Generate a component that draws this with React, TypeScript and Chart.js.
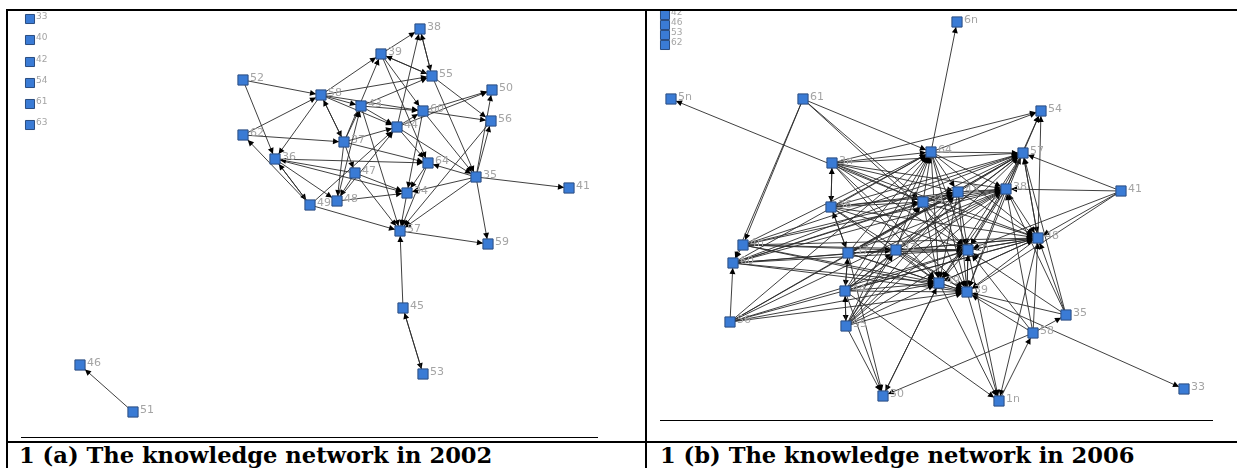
import { useEffect, useRef } from "react";
import { Chart, registerables } from "chart.js";
Chart.register(...registerables);

// ---------- 2002 network (layout coordinates) ----------
const nodes2002 = ["33", "40", "42", "54", "61", "63", "52", "58", "43", "62", "36", "37", "44", "60", "39", "38", "55", "50", "56", "64", "35", "41", "47", "48", "49", "34", "57", "59", "45", "53", "46", "51"];
const x2002 = [30, 30, 30, 30, 30, 30, 243, 321, 361, 243, 275, 344, 397, 423, 381, 420, 432, 492, 491, 428, 476, 569, 355, 337, 310, 407, 400, 488, 403, 423, 80, 133];
const y2002 = [19, 40, 62, 83, 104, 125, 80, 95, 106, 135, 159, 142, 127, 111, 54, 29, 76, 90, 121, 163, 177, 188, 173, 201, 205, 193, 231, 244, 308, 374, 365, 412];
const isolated2002 = ["33", "40", "42", "54", "61", "63"];
const edges2002 = [
  "52>58", "52>36", "62>37", "62>58", "49>62", "58>36", "58>37", "37>58", "58>43", "58>60", "58>55", "58>39", "58>44",
  "39>38", "39>55", "55>39", "38>55", "55>38", "44>38", "55>56", "43>60", "43>44", "60>50", "44>50", "60>56", "44>60",
  "44>64", "44>35", "37>44", "37>43", "37>39", "37>64", "37>47", "37>48", "36>49", "36>48", "36>34", "36>64", "49>57",
  "49>44", "49>36", "47>34", "47>57", "47>48", "47>36", "48>34", "48>44", "48>43", "34>57", "64>57", "64>34", "35>41",
  "35>59", "35>57", "35>34", "35>64", "35>50", "35>56", "55>35", "60>35", "57>59", "45>57", "45>53", "53>45", "51>46",
  "43>57", "60>34", "39>64", "56>57", "39>60", "43>55"
];

// ---------- 2006 network (layout coordinates) ----------
const nodes2006 = ["42", "46", "53", "62", "6n", "5n", "61", "54", "3n", "64", "57", "43", "38", "41", "34", "36", "4n", "60", "56", "37", "47", "2n", "48", "49", "39", "44", "55", "35", "58", "50", "1n", "33"];
const x2006 = [665, 665, 665, 665, 957, 671, 803, 1041, 832, 931, 1023, 958, 1006, 1121, 923, 831, 743, 733, 730, 848, 896, 968, 1038, 939, 967, 845, 846, 1066, 1033, 883, 999, 1184];
const y2006 = [15, 25, 35, 45, 22, 99, 99, 111, 163, 152, 153, 192, 189, 191, 202, 207, 245, 263, 322, 253, 250, 250, 238, 283, 292, 291, 326, 315, 333, 396, 401, 389];
const stacked2006 = ["42", "46", "53", "62"];
const edges2006 = [
  "64>6n", "34>5n", "61>4n", "61>60", "61>34", "61>2n", "57>54", "38>54", "48>54", "3n>54", "41>57", "41>38", "41>48",
  "41>2n", "41>39", "35>48", "35>38", "35>57", "35>39", "35>2n", "58>48", "58>38", "58>39", "58>2n", "58>50", "39>33",
  "44>50", "55>50", "49>50", "37>50", "2n>1n", "39>1n", "49>1n", "44>1n", "56>60", "56>2n", "56>48", "56>49", "4n>60",
  "4n>64", "4n>43", "4n>2n", "4n>48", "4n>39", "60>64", "60>34", "60>2n", "60>49", "60>39", "60>38", "58>35",
  "3n>64", "3n>43", "3n>34", "3n>38", "3n>2n", "3n>49", "3n>39", "3n>36", "36>3n", "3n>57", "3n>48",
  "36>64", "36>34", "36>43", "36>2n", "36>49", "36>39", "36>38", "36>37", "37>36", "36>48",
  "37>47", "37>2n", "37>49", "37>64", "37>43", "37>39", "37>44", "44>37", "37>38",
  "44>55", "55>44", "44>49", "44>2n", "44>39", "44>64", "44>34", "44>47", "44>38", "44>48",
  "55>49", "55>39", "55>2n", "55>64", "55>43", "55>34", "55>38",
  "47>2n", "47>64", "47>43", "47>39", "47>49", "47>38", "47>57",
  "34>64", "34>43", "34>2n", "34>49", "34>39", "34>38",
  "64>43", "64>2n", "64>39", "64>49", "64>38", "64>57", "64>48", "64>54",
  "43>38", "43>2n", "43>39", "43>49", "43>57", "43>48",
  "38>57", "38>2n", "38>48", "38>39", "38>49",
  "57>48", "48>57", "57>2n", "57>39", "57>49",
  "48>2n", "48>39", "48>49", "48>1n", "2n>49", "2n>39", "39>2n", "49>39", "2n>48",
  "61>64", "60>47", "4n>47", "56>39", "1n>58", "50>49", "55>47", "60>57", "4n>57", "56>64",
  "44>57", "55>57", "36>57", "37>57", "49>48", "47>48", "34>48", "34>57", "4n>38", "60>43",
  "60>48", "56>38", "56>57", "4n>49", "56>43"
];

const netPlugin = {
  id: "net",
  beforeDatasetsDraw(chart: any, _args: any, opts: any) {
    const ctx = chart.ctx;
    const meta = chart.getDatasetMeta(0);
    const pos: Record<string, { x: number; y: number }> = {};
    opts.labels.forEach((l: string, i: number) => {
      pos[l] = { x: meta.data[i].x, y: meta.data[i].y };
    });
    const h = opts.half;
    ctx.save();
    ctx.strokeStyle = "#2a2a2a";
    ctx.fillStyle = "#000";
    ctx.lineWidth = 0.9;
    opts.edges.forEach((e: string) => {
      const [a, b] = e.split(">");
      const p = pos[a];
      const q = pos[b];
      if (!p || !q) return;
      const dx = q.x - p.x;
      const dy = q.y - p.y;
      const len = Math.hypot(dx, dy);
      if (len < 1) return;
      const m = Math.max(Math.abs(dx), Math.abs(dy));
      const t = h / m;
      const sx = p.x + dx * t;
      const sy = p.y + dy * t;
      const ex = q.x - dx * t;
      const ey = q.y - dy * t;
      ctx.beginPath();
      ctx.moveTo(sx, sy);
      ctx.lineTo(ex, ey);
      ctx.stroke();
      const ux = dx / len;
      const uy = dy / len;
      const al = 6;
      const aw = 3;
      ctx.beginPath();
      ctx.moveTo(ex, ey);
      ctx.lineTo(ex - ux * al - uy * aw, ey - uy * al + ux * aw);
      ctx.lineTo(ex - ux * al + uy * aw, ey - uy * al - ux * aw);
      ctx.closePath();
      ctx.fill();
    });
    ctx.restore();
  },
  afterDatasetsDraw(chart: any, _args: any, opts: any) {
    const ctx = chart.ctx;
    const meta = chart.getDatasetMeta(0);
    ctx.save();
    ctx.fillStyle = "#a4a4a4";
    ctx.textBaseline = "middle";
    ctx.textAlign = "left";
    opts.labels.forEach((l: string, i: number) => {
      const small = opts.small.includes(l);
      ctx.font = (small ? "9px" : "11px") + " 'DejaVu Sans', sans-serif";
      const el = meta.data[i];
      ctx.fillText(l, el.x + (small ? 6 : 7), el.y - 2);
    });
    ctx.restore();
  },
};

function Net(props: any) {
  const ref = useRef<HTMLCanvasElement>(null);
  useEffect(() => {
    const { labels, xs, ys, edges, small, xMin, xMax, yMin, yMax, half } = props;
    const data = labels.map((_: string, i: number) => ({ x: xs[i], y: ys[i] }));
    const radii = labels.map((l: string) => (small.includes(l) ? 6.4 : 7.2));
    const chart = new Chart(ref.current as HTMLCanvasElement, {
      type: "scatter",
      data: {
        datasets: [
          {
            data,
            pointStyle: "rect",
            pointRadius: radii,
            backgroundColor: "#3a7bd5",
            borderColor: "#2b4d80",
            borderWidth: 1,
            clip: false as any,
          },
        ],
      },
      options: {
        responsive: false,
        animation: false,
        devicePixelRatio: 1,
        layout: { padding: 0, autoPadding: false } as any,
        scales: {
          x: { type: "linear", min: xMin, max: xMax, display: false },
          y: { type: "linear", min: yMin, max: yMax, reverse: true, display: false },
        },
        plugins: {
          legend: { display: false },
          tooltip: { enabled: false },
          net: { labels, edges, small, half },
        } as any,
      },
      plugins: [netPlugin],
    });
    return () => chart.destroy();
  }, []);
  return (
    <canvas
      ref={ref}
      width={props.width}
      height={props.height}
      style={{ position: "absolute", left: props.left, top: props.top, width: props.width, height: props.height }}
    />
  );
}

const line = (left: number, top: number, width: number, height: number) => (
  <div style={{ position: "absolute", left, top, width, height, background: "#000", zIndex: 2 }} />
);

const captionStyle: any = {
  position: "absolute",
  top: 444,
  fontFamily: "'DejaVu Serif', serif",
  fontWeight: "bold",
  fontSize: 22.6,
  lineHeight: "22px",
  whiteSpace: "nowrap",
  color: "#000",
};

export default function App() {
  return (
    <div style={{ position: "absolute", left: 0, top: 0, width: 1237, height: 468, overflow: "hidden", background: "#fff" }}>
      <Net labels={nodes2002} xs={x2002} ys={y2002} edges={edges2002} small={isolated2002}
        xMin={8} xMax={645} yMin={10} yMax={436} left={8} top={10} width={637} height={426} half={5} />
      <Net labels={nodes2006} xs={x2006} ys={y2006} edges={edges2006} small={stacked2006}
        xMin={647} xMax={1237} yMin={10} yMax={419} left={647} top={10} width={590} height={409} half={5} />
      {line(6, 9, 1231, 2)}
      {line(6, 9, 2, 459)}
      {line(645, 9, 2, 459)}
      {line(6, 441, 1231, 2)}
      {line(21, 437, 577, 1)}
      {line(660, 420, 553, 1)}
      <div style={{ ...captionStyle, left: 19 }}>1 (a) The knowledge network in 2002</div>
      <div style={{ ...captionStyle, left: 660 }}>1 (b) The knowledge network in 2006</div>
    </div>
  );
}
